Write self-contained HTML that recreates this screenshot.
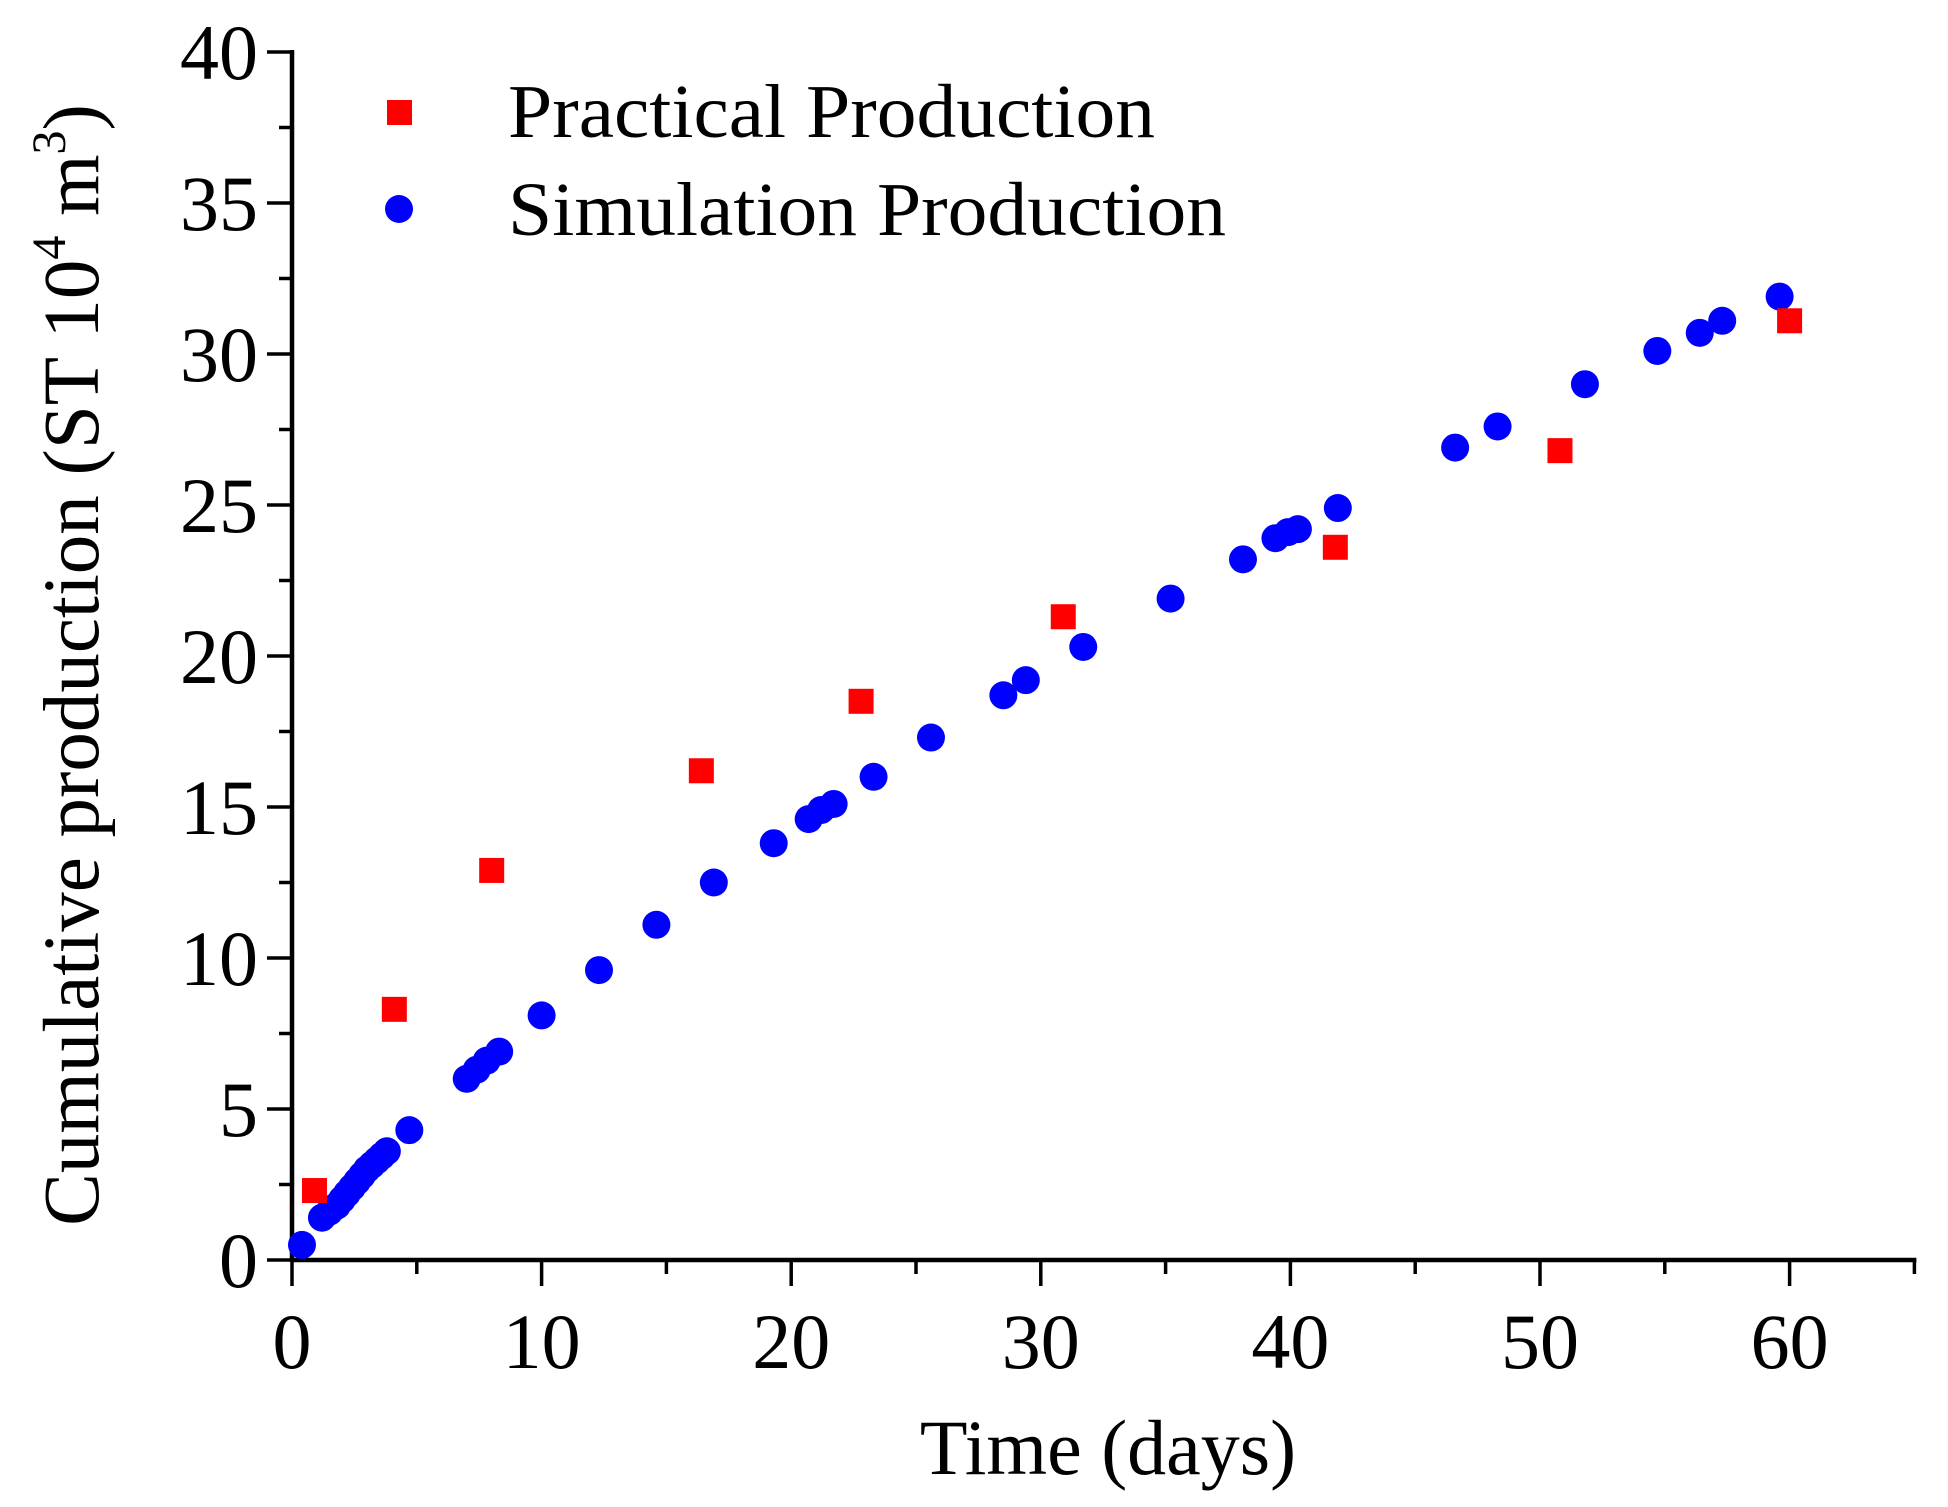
<!DOCTYPE html>
<html><head><meta charset="utf-8"><style>
body{margin:0;background:#fff}
svg{display:block;font-family:"Liberation Serif",serif}
</style></head><body>
<svg id="chart" width="1948" height="1507" viewBox="0 0 1948 1507" xmlns="http://www.w3.org/2000/svg">
<g id="axes"></g>
<g id="marks"></g>
<g>
<rect x="387" y="100" width="25" height="25" fill="#ff0000"/>
<text x="508" y="137" font-size="76" textLength="647" lengthAdjust="spacingAndGlyphs">Practical Production</text>
<circle cx="399" cy="209" r="14" fill="#0000ff"/>
<text x="508" y="235" font-size="76" textLength="718" lengthAdjust="spacingAndGlyphs">Simulation Production</text>
</g>
<text x="1108" y="1474" font-size="78" text-anchor="middle">Time (days)</text>
<text transform="translate(98,665) rotate(-90)" font-size="79" text-anchor="middle">Cumulative production (ST 10<tspan font-size="48" dy="-33">4</tspan><tspan dy="33"> m</tspan><tspan font-size="48" dy="-33">3</tspan><tspan dy="33">)</tspan></text>
</svg>
<script>
const practicalX=[0.9,4.1,8.0,16.4,22.8,30.9,41.8,50.8,60.0];
const practicalY=[2.3,8.3,12.9,16.2,18.5,21.3,23.6,26.8,31.1];
const simX=[0.4,1.2,1.5,1.8,2.0,2.2,2.4,2.6,2.8,3.0,3.2,3.4,3.6,3.8,4.7,7.0,7.4,7.8,8.3,10.0,12.3,14.6,16.9,19.3,20.7,21.2,21.7,23.3,25.6,28.5,29.4,31.7,35.2,38.1,39.4,39.9,40.3,41.9,46.6,48.3,51.8,54.7,56.4,57.3,59.6];
const simY=[0.5,1.4,1.6,1.8,2.0,2.2,2.4,2.6,2.8,3.0,3.15,3.3,3.45,3.6,4.3,6.0,6.3,6.6,6.9,8.1,9.6,11.1,12.5,13.8,14.6,14.9,15.1,16.0,17.3,18.7,19.2,20.3,21.9,23.2,23.9,24.1,24.2,24.9,26.9,27.6,29.0,30.1,30.7,31.1,31.9];
const xTicks=[0,10,20,30,40,50,60];
const yTicks=[0,5,10,15,20,25,30,35,40];
const X0=292,XK=24.96,Y0=1260,YK=30.2;
const sx=v=>X0+v*XK, sy=v=>Y0-v*YK;
const NS="http://www.w3.org/2000/svg";
const axes=document.getElementById('axes'), marks=document.getElementById('marks');
function mk(t,a,p){const e=document.createElementNS(NS,t);for(const k in a)e.setAttribute(k,a[k]);p.appendChild(e);return e;}
let e=mk('line',{x1:X0,y1:Y0,x2:sx(65)+2,y2:Y0,stroke:'#000','stroke-width':4.5},axes);


e=mk('line',{x1:X0,y1:Y0+2,x2:X0,y2:sy(40)-2,stroke:'#000','stroke-width':4.5},axes);


for(let v=0;v<=65;v+=5){const maj=v%10===0;
 e=mk('line',{x1:sx(v),y1:Y0,x2:sx(v),y2:Y0+(maj?26:14),stroke:'#000','stroke-width':3.5},axes);
 
 }
for(let v=0;v<=40;v+=2.5){const maj=v%5===0;
 e=mk('line',{x1:X0,y1:sy(v),x2:X0-(maj?25:13),y2:sy(v),stroke:'#000','stroke-width':3.5},axes);
 
 }
xTicks.forEach(v=>{e=mk('text',{x:sx(v),y:1368,'font-size':78,'text-anchor':'middle'},axes);e.textContent=v;
 
 });
yTicks.forEach(v=>{e=mk('text',{x:258,y:sy(v)+27,'font-size':78,'text-anchor':'end'},axes);e.textContent=v;
 
 });
simX.forEach((v,i)=>{e=mk('circle',{cx:sx(v),cy:sy(simY[i]),r:14,fill:'#0000ff'},marks);
 
 });
practicalX.forEach((v,i)=>{e=mk('rect',{x:sx(v)-12.5,y:sy(practicalY[i])-12.5,width:25,height:25,fill:'#ff0000'},marks);
 
 });
</script>
</body></html>
